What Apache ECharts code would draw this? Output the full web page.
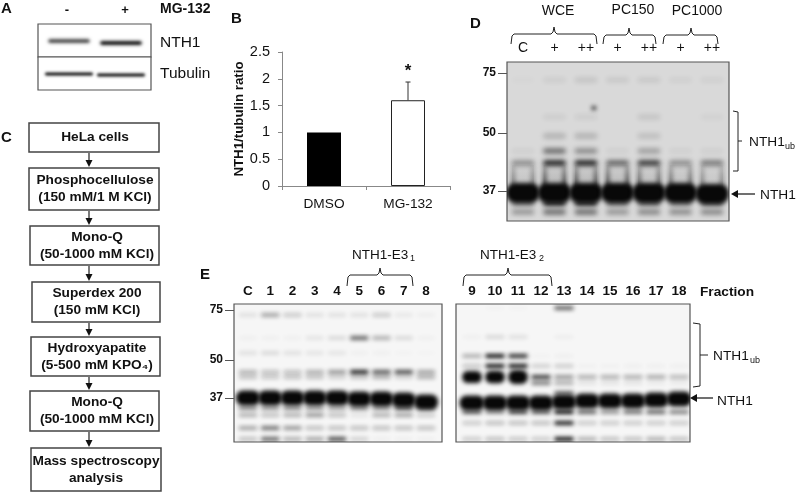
<!DOCTYPE html>
<html><head><meta charset="utf-8">
<style>html,body{margin:0;padding:0;background:#fff}#c{width:796px;height:493px}</style>
<script src="https://cdn.jsdelivr.net/npm/echarts@6/dist/echarts.min.js"></script>
</head><body><div id="c"></div>
<script>
// Panel B
const barCategories=['DMSO','MG-132'];
const barValues=[1,1.6];
const barErrorTop=[null,1.94];
const barTicks=[0,0.5,1,1.5,2,2.5];
// Panel C
const flowSteps=[['HeLa cells'],['Phosphocellulose','(150 mM/1 M KCl)'],['Mono-Q','(50-1000 mM KCl)'],['Superdex 200','(150 mM KCl)'],['Hydroxyapatite','(5-500 mM KPO₄)'],['Mono-Q','(50-1000 mM KCl)'],['Mass spectroscopy','analysis']];
// Panel A blots: [lane, migration, intensity]
const aNth1=[[0,17,.8],[1,19,1]];
const aTubulin=[[0,17,1],[1,18,1]];
// Panel D blot
const dLanes=['C','+','++','+','++','+','++'];
const dMarkers=[[11,'75'],[71,'50'],[129,'37']];
const dMain=[131,131,131,131,131,131,132];
const dMigrations=[101,89,74,55,18,141,150];
const dRows=[[.5,1,1,.7,.9,.5,.6],[.1,.65,.5,.1,.4,.1,.1],[0,.3,.3,0,.22,0,0],[0,.12,.12,0,.18,0,.08],[.05,.12,.18,.15,.15,.1,.1],[.6,1,1,.65,.7,.6,.7],[.45,.65,.65,.45,.52,.5,.52]];
const dSmear=[.55,.85,.85,.8,.7,.65,.5];
const dSpots=[[2.25,46,.9]];
// Panel E left blot
const e1Lanes=['C','1','2','3','4','5','6','7','8'];
const e1Markers=[[6,'75'],[56,'50'],[94,'37']];
const e1Main=[94,94,94,94,94,95,95,96,98];
const e1Migrations=[68,73,49,34,11,104,111,124,135];
const e1Rows=[[.38,.32,.32,.4,.5,.95,.75,.8,.45],[.32,.3,.32,.32,.24,.32,.4,.24,.4],[.16,.2,.16,.14,.14,.07,.07,.05,.04],[.07,.07,.07,.14,.2,.7,.4,.2,.07],[.16,.45,.28,.16,.16,.16,.28,.12,.08],[.55,.5,.55,.5,.45,.55,.5,.7,.5],[.4,.33,.4,.5,.33,.14,.4,.45,.28],[.45,.65,.5,.33,.33,.33,.33,.33,.33],[.33,.7,.4,.45,.8,.24,.07,.07,.07]];
// Panel E right blot
const e2Lanes=['9','10','11','12','13','14','15','16','17','18'];
const e2Markers=[];
const e2Main=[99,99,99,99,98,97,97,97,96,95];
const e2Migrations=[73,62,52,33,4,79,89,108,119,135];
const e2Rows=[[1.25,1.3,1.45,.85,.5,.4,.4,.4,.42,.36],[.3,1,1,.24,.26,.06,.06,.07,.07,.07],[.4,1,.9,.05,.07,0,0,0,0,0],[.07,.2,.16,0,.08,0,0,0,0,0],[0,.05,.05,0,.7,0,0,0,0,0],[0,0,0,.6,.4,.14,.14,.14,.1,.1],[0,0,0,0,.65,0,0,0,0,0],[.7,.5,.8,.7,1,.7,.5,.65,.7,.6],[.28,.33,.33,.33,.95,.28,.28,.28,.28,.28],[.28,.33,.3,.28,1,.4,.33,.33,.4,.33]];

function row(migrations,rows){
  const out=[];
  rows.forEach((r,i)=>r.forEach((v,l)=>{if(v>0)out.push([l,migrations[i],v]);}));
  return out;
}
const mains=a=>a.map((m,l)=>[l,m,1]);
const OFF=3000;
const grids=[],xAxes=[],yAxes=[],series=[];
function band(gi,data,o){
  series.push({type:'custom',xAxisIndex:gi,yAxisIndex:gi,clip:true,silent:true,data,encode:{x:0,y:1},animation:false,
    renderItem(p,api){
      const c=api.coord([api.value(0),api.value(1)]),a=api.value(2);
      const w=api.size([o.w,0])[0],h=o.h*(a>1?a*2.4:1),al=Math.pow(Math.min(a,1),1.3);
      return {type:'rect',shape:{x:c[0]-w/2-OFF,y:c[1]-h/2,width:w,height:h,r:h/2.2},
        style:{fill:'#000',shadowOffsetX:OFF,shadowBlur:o.blur,shadowColor:`rgba(8,8,8,${al})`}};
    }});
}
function gel(box,xr,ymax,labels,markers,bg,bold,margin){
  const gi=grids.length;
  grids.push({left:box[0],top:box[1],width:box[2]-box[0],height:box[3]-box[1],show:true,backgroundColor:bg,borderColor:'#555',borderWidth:1.2});
  const laneVals=labels.map((_,i)=>i);
  xAxes.push({gridIndex:gi,type:'value',position:'top',min:xr[0],max:xr[1],splitLine:{show:false},axisLine:{show:false,onZero:false},axisTick:{show:false},
    axisLabel:{show:labels.length>0,customValues:laneVals,margin,color:'#111',fontFamily:'Liberation Sans',fontSize:bold?13.5:14,fontWeight:bold?'bold':'normal',formatter:v=>labels[Math.round(v)]||''}});
  const mv=markers.map(m=>m[0]);
  yAxes.push({gridIndex:gi,type:'value',inverse:true,min:0,max:ymax,splitLine:{show:false},axisLine:{show:false,onZero:false},
    axisTick:{show:mv.length>0,customValues:mv,length:9,lineStyle:{color:'#555'}},
    axisLabel:{show:mv.length>0,customValues:mv,margin:11,color:'#111',fontFamily:'Liberation Sans',fontSize:12,fontWeight:'bold',
      formatter:v=>{const m=markers.find(k=>k[0]===v);return m?m[1]:'';}}});
  return gi;
}
// Bar chart grid = 0
grids.push({left:282,top:52,width:168,height:134});
xAxes.push({gridIndex:0,type:'category',data:barCategories,axisLine:{lineStyle:{color:'#888'}},axisTick:{show:true,length:4,lineStyle:{color:'#888'}},
  axisLabel:{color:'#111',fontFamily:'Liberation Sans',fontSize:13.7,margin:11}});
yAxes.push({gridIndex:0,type:'value',min:barTicks[0],max:barTicks[barTicks.length-1],interval:0.5,splitLine:{show:false},
  axisLine:{show:true,lineStyle:{color:'#888'}},axisTick:{show:true,length:4,lineStyle:{color:'#888'}},
  axisLabel:{color:'#111',fontFamily:'Liberation Sans',fontSize:14.5,margin:12},
  name:'NTH1/tubulin ratio',nameLocation:'middle',nameGap:36,nameRotate:90,nameTextStyle:{color:'#111',fontFamily:'Liberation Sans',fontSize:13.3,fontWeight:'bold'}});
series.push({type:'bar',xAxisIndex:0,yAxisIndex:0,barWidth:34,animation:false,
  data:barValues.map((v,i)=>({value:v,itemStyle:i===0?{color:'#000'}:{color:'#fff',borderColor:'#222',borderWidth:1}}))});
series.push({type:'custom',xAxisIndex:0,yAxisIndex:0,clip:false,animation:false,silent:true,z:5,
  data:barErrorTop.map((t,i)=>[i,barValues[i],t]).filter(d=>d[2]!==null),encode:{x:0,y:2},
  renderItem(p,api){
    const b=api.coord([api.value(0),api.value(1)]),t=api.coord([api.value(0),api.value(2)]);
    const ls={stroke:'#333',lineWidth:1};
    return {type:'group',children:[
      {type:'line',shape:{x1:b[0],y1:b[1],x2:t[0],y2:t[1]},style:ls},
      {type:'line',shape:{x1:t[0]-2.5,y1:t[1],x2:t[0]+2.5,y2:t[1]},style:ls},
      {type:'text',x:t[0],y:t[1]-11,style:{text:'*',fill:'#111',font:'bold 17px "Liberation Sans"',textAlign:'center',textVerticalAlign:'middle'}}
    ]};
  }});
// Panel A
const ga1=gel([38,24,151,57],[-0.596,1.577],33,[],[],'#fff',false,0);
band(ga1,aNth1,{w:.8,h:4,blur:3.5});
const ga2=gel([38,57,151,90],[-0.596,1.577],33,[],[],'#fff',false,0);
band(ga2,aTubulin,{w:.92,h:3,blur:3});
// Panel D
const gd=gel([507,62,729,221],[-0.508,6.54],159,dLanes,dMarkers,'#d9d9d9',false,7);
band(gd,row(dMigrations,dRows),{w:.72,h:5,blur:5});
series.push({type:'custom',xAxisIndex:gd,yAxisIndex:gd,clip:true,silent:true,animation:false,data:dSmear.map((v,l)=>[l,103,v,dMain[l]]),encode:{x:0,y:1},
  renderItem(p,api){
    const l=api.value(0),a=api.value(2),t=api.coord([l,api.value(1)]),b=api.coord([l,api.value(3)]);
    const grad=(k)=>({type:'linear',x:0,y:0,x2:0,y2:1,colorStops:[{offset:0,color:`rgba(20,20,20,${a*k*.25})`},{offset:1,color:`rgba(20,20,20,${a*k})`}]});
    const side=d=>({type:'rect',shape:{x:t[0]+d-2.5-OFF,y:t[1],width:5,height:b[1]-t[1]},style:{fill:grad(1),shadowOffsetX:OFF,shadowBlur:4,shadowColor:'rgba(20,20,20,1)'}});
    return {type:'group',children:[
      {type:'rect',shape:{x:t[0]-11,y:t[1],width:22,height:b[1]-t[1]},style:{fill:grad(.25)}},
      side(-10),side(10)]};
  }});
band(gd,mains(dMain),{w:1.06,h:20,blur:4});
band(gd,dSpots,{w:.15,h:4,blur:4});
// Panel E
const ge1=gel([234,304,442,442],[-0.629,8.719],138,e1Lanes,e1Markers,'#f6f6f6',true,6);
band(ge1,row(e1Migrations,e1Rows),{w:.84,h:4,blur:4});
band(ge1,mains(e1Main),{w:1.08,h:15,blur:4});
const ge2=gel([456,304,690,442],[-0.696,9.478],138,e2Lanes,e2Markers,'#f6f6f6',true,6);
band(ge2,row(e2Migrations,e2Rows),{w:.85,h:4,blur:4});
band(ge2,mains(e2Main),{w:1.08,h:15,blur:4});

// Annotations
const g=[];
const F='"Liberation Sans"';
function T(text,x,y,size,bold,align){
  g.push({type:'text',x,y,silent:true,style:{text,fill:'#111',font:`${bold?'bold ':''}${size}px ${F}`,textAlign:align||'left',textVerticalAlign:'middle',verticalAlign:'middle'}});
}
function P(points,w,color){g.push({type:'polyline',silent:true,shape:{points},style:{stroke:color||'#222',lineWidth:w||1,fill:null}});}
function brace(x0,x1,cx,y,drop){P([[x0,y+drop],[x0+1,y+2],[x0+3,y],[cx-3,y],[cx-1,y-2],[cx,y-7],[cx+1,y-2],[cx+3,y],[x1-3,y],[x1-1,y+2],[x1,y+drop]]);}
function arrow(x0,x1,y){
  P([[x0,y],[x1+4,y]],1.2,'#111');
  g.push({type:'polygon',silent:true,shape:{points:[[x1,y],[x1+7,y-4],[x1+7,y+4]]},style:{fill:'#111'}});
}
T('A',1,9,15,true);T('B',231,19,15,true);T('C',1,138,15,true);T('D',470,24,15,true);T('E',200,275,15,true);
T('-',67,10,13,true,'center');T('+',125,10,13,true,'center');T('MG-132',160,9,14,true);
T('NTH1',160,43,15.5);T('Tubulin',160,74,15.5);
// Flow chart
const flowBoxes=[[29,123,159,152],[29,168,159,210],[30,226,159,265],[32,282,160,322],[31,337,160,376],[30,391,159,431],[31,448,161,491]];
const flowCx=[95,95,97,97,97,97,96];
flowSteps.forEach((s,i)=>{
  const b=flowBoxes[i];
  g.push({type:'rect',silent:true,shape:{x:b[0],y:b[1],width:b[2]-b[0],height:b[3]-b[1]},style:{fill:'#fff',stroke:'#444',lineWidth:1.5}});
  const mid=(b[1]+b[3])/2;
  s.forEach((line,j)=>T(line,flowCx[i],s.length===1?mid:mid+(j?8.5:-8.5),13.7,true,'center'));
  if(i<flowSteps.length-1){
    const nt=flowBoxes[i+1][1];
    P([[89,b[3]+1],[89,nt-6]],1.2,'#222');
    g.push({type:'polygon',silent:true,shape:{points:[[89,nt-1],[85.5,nt-8],[92.5,nt-8]]},style:{fill:'#111'}});
  }
});
// Panel D annotations
T('WCE',558,11,14,false,'center');T('PC150',633,10,14,false,'center');T('PC1000',697,11,14,false,'center');
brace(511,597,554,34,10);brace(603,656,629,35,9);brace(663,718,691,35,9);
P([[733,111],[738,112],[738,171],[733,171]]);P([[738,141],[742,141]]);
T('NTH1',749,142,13.7);T('ub',785,147,9);
arrow(755,731,194);T('NTH1',760,195,13.7);
// Panel E annotations
T('NTH1-E3',352,255,13.5);T('1',410,259,9);
brace(347,413,380,275,11);
T('NTH1-E3',480,255,13.5);T('2',539,259,9);
brace(463,552,508,275,11);
T('Fraction',700,292,13.7,true);
P([[693,323],[700,324],[700,386],[693,387]]);P([[700,355],[708,355]]);
T('NTH1',713,356,13.7);T('ub',750,361,9);
arrow(713,690,398);T('NTH1',717,401,13.7);

const chart=echarts.init(document.getElementById('c'),null,{renderer:'canvas'});
chart.setOption({animation:false,backgroundColor:'#fff',grid:grids,xAxis:xAxes,yAxis:yAxes,series,graphic:g});
</script></body></html>
